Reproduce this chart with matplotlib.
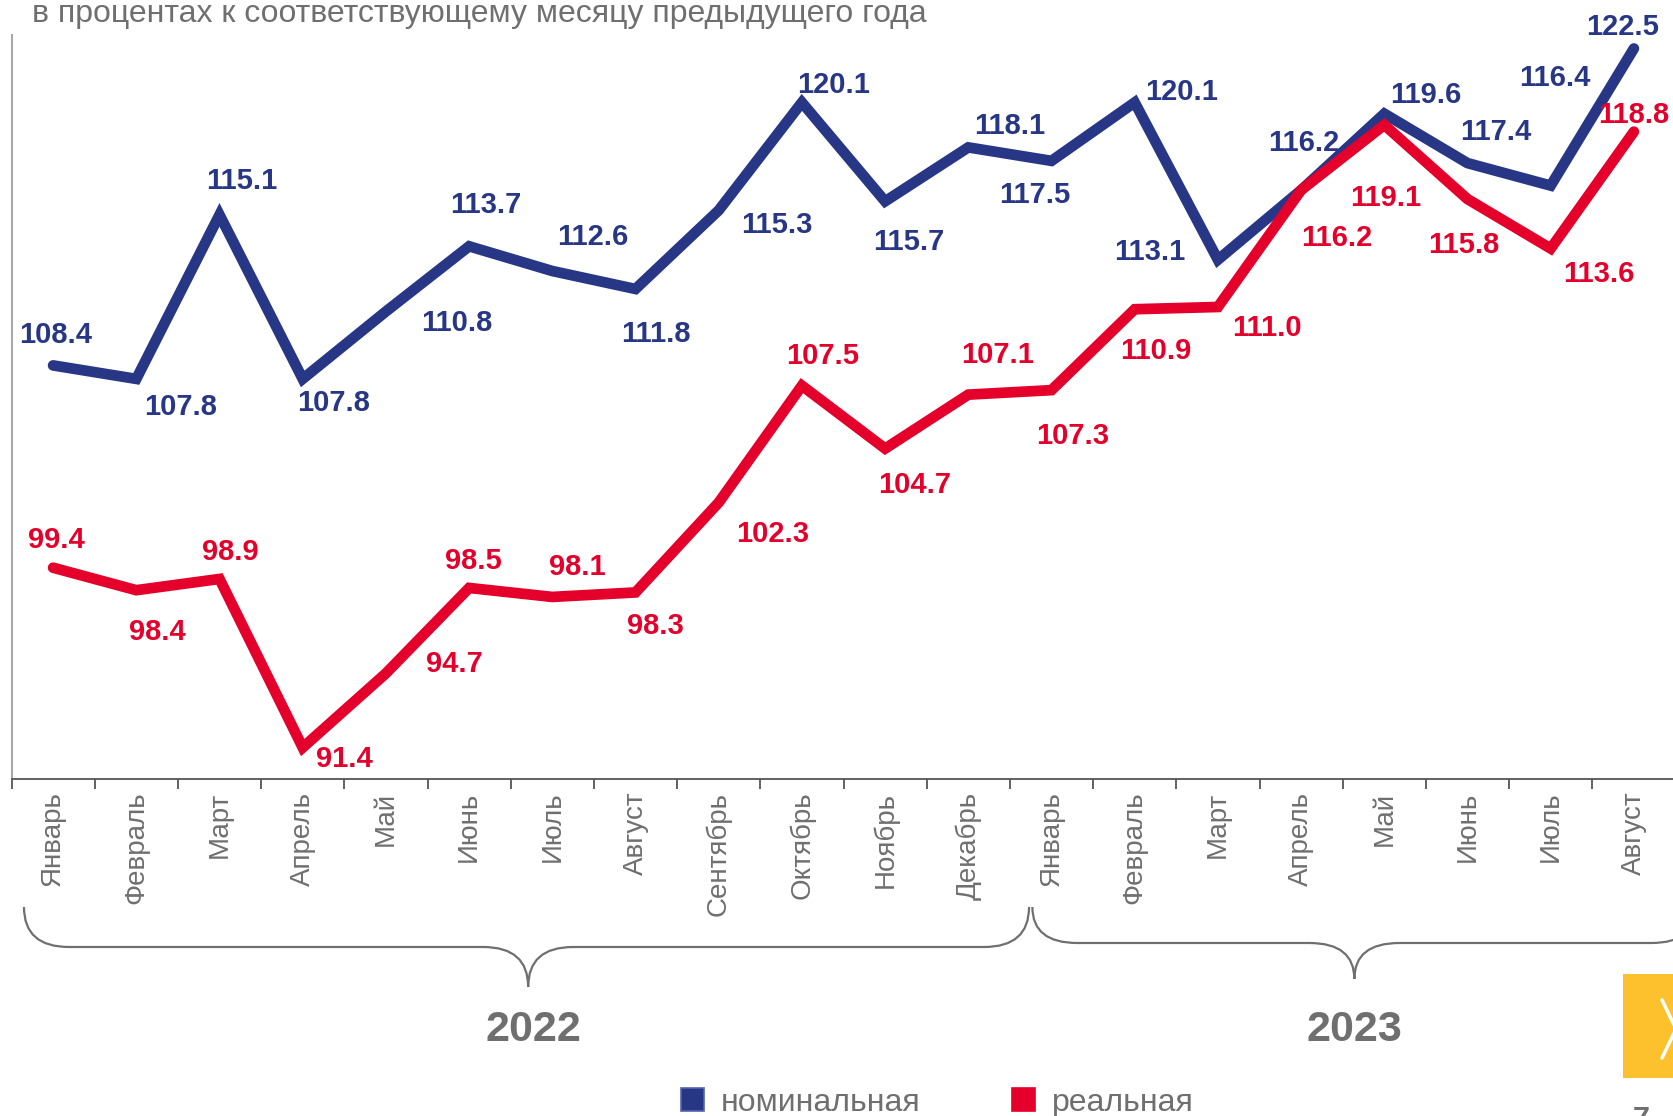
import numpy as np
import matplotlib
matplotlib.use('Agg')
import matplotlib.pyplot as plt
from matplotlib.path import Path
from matplotlib.patches import PathPatch, Rectangle

# --- data ---
months = ['Январь', 'Февраль', 'Март', 'Апрель', 'Май', 'Июнь', 'Июль', 'Август',
          'Сентябрь', 'Октябрь', 'Ноябрь', 'Декабрь',
          'Январь', 'Февраль', 'Март', 'Апрель', 'Май', 'Июнь', 'Июль', 'Август']
nominal = [108.4, 107.8, 115.1, 107.8, 110.8, 113.7, 112.6, 111.8, 115.3, 120.1,
           115.7, 118.1, 117.5, 120.1, 113.1, 116.2, 119.6, 117.4, 116.4, 122.5]
real = [99.4, 98.4, 98.9, 91.4, 94.7, 98.5, 98.1, 98.3, 102.3, 107.5,
        104.7, 107.1, 107.3, 110.9, 111.0, 116.2, 119.1, 115.8, 113.6, 118.8]
years = ['2022', '2023']
series_names = ['номинальная', 'реальная']
subtitle = 'в процентах к соответствующему месяцу предыдущего года'

# label offsets in points (dx, dy)
nominal_off = [(2, 24), (32, -18), (16, 27), (22, -15), (51, -6), (12, 32), (29, 27),
               (15, -30), (42, -8), (23, 15), (17, -27), (30, 18), (-12, -22), (34, 10),
               (-49, 8), (2, 36), (30, 16), (20, 25), (3, 80), (-8, 18)]
real_off = [(2, 22), (15, -28), (8, 22), (30, -6), (49, 9), (3, 22), (18, 24),
            (14, -22), (39, -20), (15, 24), (21, -24), (21, 31), (15, -31), (15, -28),
            (35, -13), (26, -32), (1, -50), (-3, -31), (35, -16), (0, 14)]

BLUE = '#283686'
RED = '#E4002B'
GRAY = '#6F6F6F'
W, H = 1673, 1116

plt.rcParams['font.family'] = ['Liberation Sans', 'DejaVu Sans']

fig = plt.figure(figsize=(W / 100, H / 100), dpi=100)
ax = fig.add_axes([11.5 / W, 1 - 779 / H, 1664 / W, (779 - 35) / H])

x = np.arange(len(months))
ax.plot(x, nominal, color=BLUE, lw=7.7, solid_capstyle='round', solid_joinstyle='miter', zorder=3)
ax.plot(x, real, color=RED, lw=7.7, solid_capstyle='round', solid_joinstyle='miter', zorder=4)

for i in range(len(x)):
    dx, dy = nominal_off[i]
    ax.annotate(f'{nominal[i]:.1f}', (x[i], nominal[i]), xytext=(dx, dy - 2.3),
                textcoords='offset points', ha='center', va='center',
                fontsize=21, fontweight='bold', color=BLUE, zorder=5, annotation_clip=False)
    dx, dy = real_off[i]
    ax.annotate(f'{real[i]:.1f}', (x[i], real[i]), xytext=(dx, dy - 2.3),
                textcoords='offset points', ha='center', va='center',
                fontsize=21, fontweight='bold', color=RED, zorder=5, annotation_clip=False)

ax.set_xlim(-0.5, 19.5)
ax.set_ylim(90, 123.1)
ax.set_yticks([])
ax.set_xticks(x)
ax.set_xticklabels(months, rotation=90, fontsize=20, color=GRAY)
ax.set_xticks(np.arange(-0.5, 20, 1), minor=True)
ax.tick_params(axis='x', which='major', length=0, pad=9)
ax.tick_params(axis='x', which='minor', length=7, width=1.3, color='#555555')
for s in ['top', 'right']:
    ax.spines[s].set_visible(False)
ax.spines['left'].set_color('#A8A8A8')
ax.spines['left'].set_linewidth(1.5)
ax.spines['bottom'].set_color('#555555')
ax.spines['bottom'].set_linewidth(1.3)

# overlay in pixel coordinates for decorations
deco = fig.add_axes([0, 0, 1, 1], facecolor='none')
deco.set_xlim(0, W)
deco.set_ylim(H, 0)
deco.axis('off')


def to_px(xi):
    return ax.transData.transform((xi, 100))[0]


def brace(x0, x1, xm, y_end, y_mid, y_tip, r=45):
    verts = [(x0, y_end), (x0, y_mid), (x0 + r, y_mid),
             (xm - r, y_mid),
             (xm, y_mid), (xm, y_tip),
             (xm, y_mid), (xm + r, y_mid),
             (x1 - r, y_mid),
             (x1, y_mid), (x1, y_end)]
    codes = [Path.MOVETO, Path.CURVE3, Path.CURVE3, Path.LINETO,
             Path.CURVE3, Path.CURVE3, Path.CURVE3, Path.CURVE3,
             Path.LINETO, Path.CURVE3, Path.CURVE3]
    deco.add_patch(PathPatch(Path(verts, codes), fill=False, edgecolor=GRAY, lw=1.6))


brace(to_px(-0.35), to_px(11.73), to_px(5.71), 907, 947, 987)
brace(to_px(11.77), to_px(19.75), to_px(15.64), 907, 943, 979)
deco.text(to_px(5.77), 1030, years[0], ha='center', va='center', fontsize=31,
          fontweight='bold', color=GRAY)
deco.text(to_px(15.64), 1030, years[1], ha='center', va='center', fontsize=31,
          fontweight='bold', color=GRAY)

# subtitle, clipped at the top edge
deco.text(32, 22, subtitle, ha='left', va='baseline', fontsize=23, color=GRAY)

# legend
for k, (name, c) in enumerate(zip(series_names, [BLUE, RED])):
    x0 = [681, 1012][k]
    deco.add_patch(Rectangle((x0, 1088), 23, 23, facecolor=c,
                             edgecolor='#5566AA' if k == 0 else c, lw=1.2))
    deco.text(x0 + 40, 1111, name, ha='left', va='baseline', fontsize=23, color=GRAY)

# yellow nav box and page number
deco.add_patch(Rectangle((1623, 974), 60, 104, facecolor='#FDC12E', edgecolor='none'))
deco.plot([1662, 1676, 1662], [1000, 1029, 1058], color='white', lw=2.5, solid_capstyle='round')
deco.text(1641, 1129, '7', ha='center', va='baseline', fontsize=22, fontweight='bold', color=GRAY)

fig.savefig('out.png', dpi=100)
